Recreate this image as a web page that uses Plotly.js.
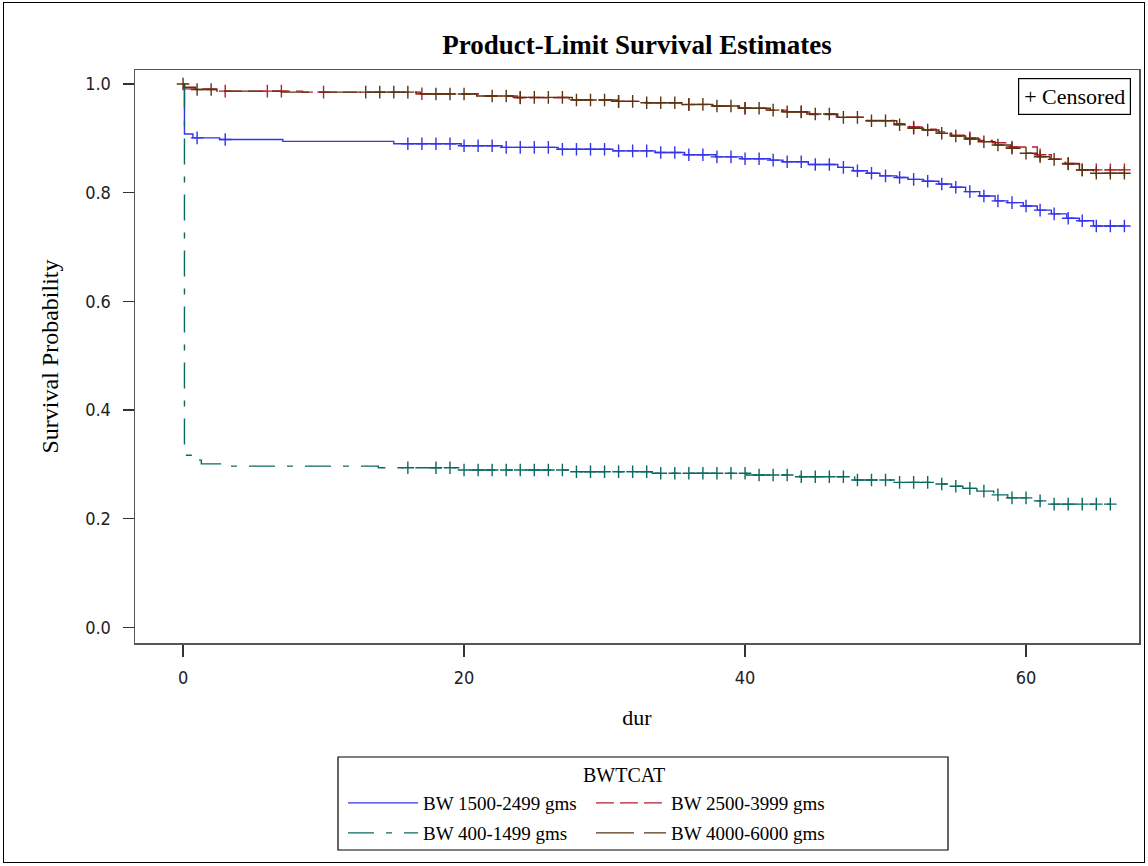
<!DOCTYPE html>
<html><head><meta charset="utf-8">
<script src="https://cdn.plot.ly/plotly-3.0.1.min.js"></script>
<style>
html,body{margin:0;padding:0;background:#fff;}
#wrap{position:relative;width:1148px;height:866px;overflow:hidden;}
#chart{position:absolute;left:0;top:0;width:1148px;height:866px;}
#frame{position:absolute;left:3px;top:2px;width:1140px;height:859px;border:1.5px solid #000;pointer-events:none;}
</style></head>
<body><div id="wrap"><div id="chart"></div><div id="frame"></div></div>
<script>
// ---- data ----
const groupNames = ['BW 1500-2499 gms', 'BW 2500-3999 gms', 'BW 400-1499 gms', 'BW 4000-6000 gms'];
const xTicks = [0, 20, 40, 60];
const yTicks = [0.0, 0.2, 0.4, 0.6, 0.8, 1.0];
const yTickText = ['0.0', '0.2', '0.4', '0.6', '0.8', '1.0'];

// BW 1500-2499 gms
const blueTimes = [0.1, 0.7, 2.6, 7.1, 15.0, 19.8, 22.7, 26.7, 30.6, 33.6, 35.7, 37.9, 39.8, 41.8, 42.7, 44.5, 46.6, 47.7, 48.7, 49.6, 50.8, 51.6, 52.7, 53.8, 54.7, 55.7, 56.7, 57.8, 58.7, 59.8, 60.8, 61.8, 62.9, 63.8, 64.8];
const blueSurv  = [0.908, 0.901, 0.898, 0.8945, 0.890, 0.8865, 0.8835, 0.880, 0.877, 0.874, 0.870, 0.866, 0.8626, 0.860, 0.857, 0.852, 0.8467, 0.8405, 0.8357, 0.831, 0.828, 0.8246, 0.821, 0.816, 0.810, 0.802, 0.794, 0.785, 0.7817, 0.7755, 0.768, 0.761, 0.753, 0.7485, 0.7387];
const blueCens  = [1, 3, 16, 17, 18, 19, 20, 21, 22, 23, 24, 25, 26, 27, 28, 29, 30, 31, 32, 33, 34, 35, 36, 37, 38, 39, 40, 41, 42, 43, 44, 45, 46, 47, 48, 49, 50, 51, 52, 53, 54, 55, 56, 57, 58, 59, 60, 61, 62, 63, 64, 65, 66, 67];

// BW 2500-3999 gms
const redTimes = [0.1, 2.4, 8.5, 16.6, 21.0, 23.8, 27.5, 30.5, 33.0, 35.5, 37.5, 39.5, 41.5, 43.0, 44.6, 46.5, 48.6, 50.6, 51.6, 52.6, 53.6, 54.6, 55.6, 56.6, 57.6, 58.8, 60.8, 61.8, 62.8, 63.8];
const redSurv  = [0.991, 0.987, 0.985, 0.982, 0.978, 0.9745, 0.971, 0.968, 0.9655, 0.962, 0.959, 0.9555, 0.952, 0.9485, 0.944, 0.939, 0.933, 0.927, 0.921, 0.917, 0.912, 0.906, 0.901, 0.896, 0.892, 0.884, 0.870, 0.862, 0.854, 0.842];
const redCens  = [3, 6, 7, 10, 17, 24, 31, 36, 40, 44, 52, 56, 59, 61, 63, 64, 65, 66, 67];

// BW 400-1499 gms
const tealTimes = [0.1, 0.7, 1.3, 3.0, 13.9, 19.7, 27.7, 33.4, 40.1, 43.9, 47.8, 50.7, 53.5, 54.5, 55.5, 56.5, 57.7, 58.7, 60.6, 61.8];
const tealSurv  = [0.317, 0.308, 0.301, 0.297, 0.294, 0.2898, 0.2867, 0.2837, 0.2806, 0.2775, 0.2714, 0.2671, 0.2640, 0.2600, 0.2560, 0.2510, 0.2440, 0.2385, 0.2330, 0.2270];
const tealCens  = [16, 18, 19, 20, 21, 22, 23, 24, 25, 26, 27, 28, 29, 30, 31, 32, 33, 34, 35, 36, 37, 38, 39, 40, 41, 42, 43, 44, 45, 46, 47, 48, 49, 50, 51, 52, 53, 54, 55, 56, 57, 58, 59, 60, 61, 62, 63, 64, 65, 66];

// BW 4000-6000 gms
const brownTimes = [0.05, 0.9, 2.5, 7.0, 16.9, 20.9, 23.5, 27.7, 30.9, 32.8, 35.6, 37.7, 39.6, 41.8, 42.7, 44.4, 46.6, 48.7, 50.8, 51.7, 52.7, 53.8, 54.7, 55.7, 56.7, 57.8, 58.9, 59.8, 60.8, 61.7, 62.8, 63.8, 64.8];
const brownSurv  = [0.994, 0.990, 0.987, 0.985, 0.9816, 0.978, 0.9755, 0.9705, 0.968, 0.9656, 0.9626, 0.9595, 0.9553, 0.952, 0.949, 0.9448, 0.9387, 0.9325, 0.925, 0.9185, 0.9154, 0.9093, 0.9043, 0.8988, 0.8939, 0.8878, 0.8817, 0.8725, 0.8663, 0.8614, 0.8528, 0.8418, 0.8357];
const brownCens  = [0, 1, 2, 13, 14, 15, 16, 18, 19, 20, 22, 23, 24, 25, 26, 27, 28, 29, 30, 31, 32, 33, 34, 35, 36, 37, 38, 39, 40, 41, 42, 43, 44, 45, 46, 47, 48, 49, 50, 51, 52, 53, 54, 55, 56, 57, 58, 59, 60, 61, 62, 63, 64, 65, 66, 67];

// ---- styling ----
const colors = ['#3434e8', '#b81c30', '#0b6a60', '#5a3510'];
const dashes = ['solid', '18px,6px', '26px,12px,6px,12px', '38px,10px'];
const legends = ['legend', 'legend', 'legend2', 'legend2'];
const serif = 'Liberation Serif, Times New Roman, serif';
const sans = 'DejaVu Sans Condensed, DejaVu Sans, sans-serif';

function stepAt(times, surv, t) {
  let s = 1;
  for (let i = 0; i < times.length; i++) { if (times[i] <= t) s = surv[i]; }
  return s;
}

const series = [
  [blueTimes, blueSurv, blueCens],
  [redTimes, redSurv, redCens],
  [tealTimes, tealSurv, tealCens],
  [brownTimes, brownSurv, brownCens]
];

const traces = [];
series.forEach(([times, surv, cens], i) => {
  const end = Math.max(...cens, ...times);
  traces.push({
    type: 'scatter', mode: 'lines', name: groupNames[i],
    x: [0].concat(times, [end]),
    y: [1].concat(surv, [surv[surv.length - 1]]),
    line: {shape: 'hv', color: colors[i], width: 1.4, dash: dashes[i]},
    legend: legends[i],
    legendwidth: (i === 0 || i === 2) ? 163 : undefined,
    hoverinfo: 'skip'
  });
  traces.push({
    type: 'scatter', mode: 'markers', name: groupNames[i] + ' censored', showlegend: false,
    x: cens,
    y: cens.map(t => stepAt(times, surv, t)),
    marker: {symbol: 'cross-thin', size: 9, line: {color: colors[i], width: 1.4}, color: colors[i]},
    hoverinfo: 'skip'
  });
});

const legendBase = {
  orientation: 'h', xref: 'container', yref: 'container',
  x: 343 / 1148, xanchor: 'left', yanchor: 'middle',
  bgcolor: 'rgba(0,0,0,0)', borderwidth: 0, itemwidth: 70,
  font: {family: serif, size: 19, color: '#000'}, traceorder: 'normal'
};

const layout = {
  width: 1148, height: 866,
  margin: {l: 135, r: 9, t: 70, b: 223},
  paper_bgcolor: '#fff', plot_bgcolor: '#fff',
  title: {text: '<b>Product-Limit Survival Estimates</b>', x: 0.5, xref: 'paper',
          y: 1 - 45 / 866, yref: 'container', yanchor: 'middle',
          font: {family: serif, size: 27, color: '#000'}},
  xaxis: {
    range: [-3.42, 68.04], tickvals: xTicks, ticktext: xTicks.map(String),
    showgrid: false, zeroline: false, showline: true, mirror: true,
    linecolor: '#555', linewidth: 1.5, ticks: 'outside', ticklen: 12, tickwidth: 1.3, tickcolor: '#333',
    tickfont: {family: sans, size: 18, color: '#222'}, ticklabelstandoff: 6,
    title: {text: 'dur', font: {family: serif, size: 22, color: '#000'}, standoff: 22}
  },
  yaxis: {
    range: [-0.0285, 1.0258], tickvals: yTicks, ticktext: yTickText,
    showgrid: false, zeroline: false, showline: true, mirror: true,
    linecolor: '#555', linewidth: 1.5, ticks: 'outside', ticklen: 11, tickwidth: 1.3, tickcolor: '#333',
    tickfont: {family: sans, size: 18, color: '#222'}, ticklabelstandoff: 8,
    title: {text: 'Survival Probability', font: {family: serif, size: 24, color: '#000'}, standoff: 20}
  },
  legend: Object.assign({}, legendBase, {y: (866 - 803) / 866}),
  legend2: Object.assign({}, legendBase, {y: (866 - 833) / 866}),
  shapes: [{
    type: 'rect', xref: 'paper', yref: 'paper',
    x0: (338 - 135) / 1004, x1: (948 - 135) / 1004,
    y0: (643 - 850) / 573, y1: (643 - 757) / 573,
    line: {color: '#000', width: 1.2}, fillcolor: 'rgba(0,0,0,0)'
  }],
  annotations: [
    {text: 'BWTCAT', xref: 'paper', yref: 'paper', x: (624 - 135) / 1004, y: (643 - 775) / 573,
     xanchor: 'center', yanchor: 'middle', showarrow: false, font: {family: serif, size: 20, color: '#000'}},
    {text: '+ Censored', xref: 'paper', yref: 'paper', x: (1131 - 135) / 1004, y: (643 - 78) / 573,
     xanchor: 'right', yanchor: 'top', showarrow: false, bordercolor: '#000', borderwidth: 1.2, borderpad: 5,
     bgcolor: '#fff', font: {family: serif, size: 22, color: '#000'}}
  ],
  showlegend: true
};

Plotly.newPlot('chart', traces, layout, {displayModeBar: false, staticPlot: true});
</script>
</body></html>
